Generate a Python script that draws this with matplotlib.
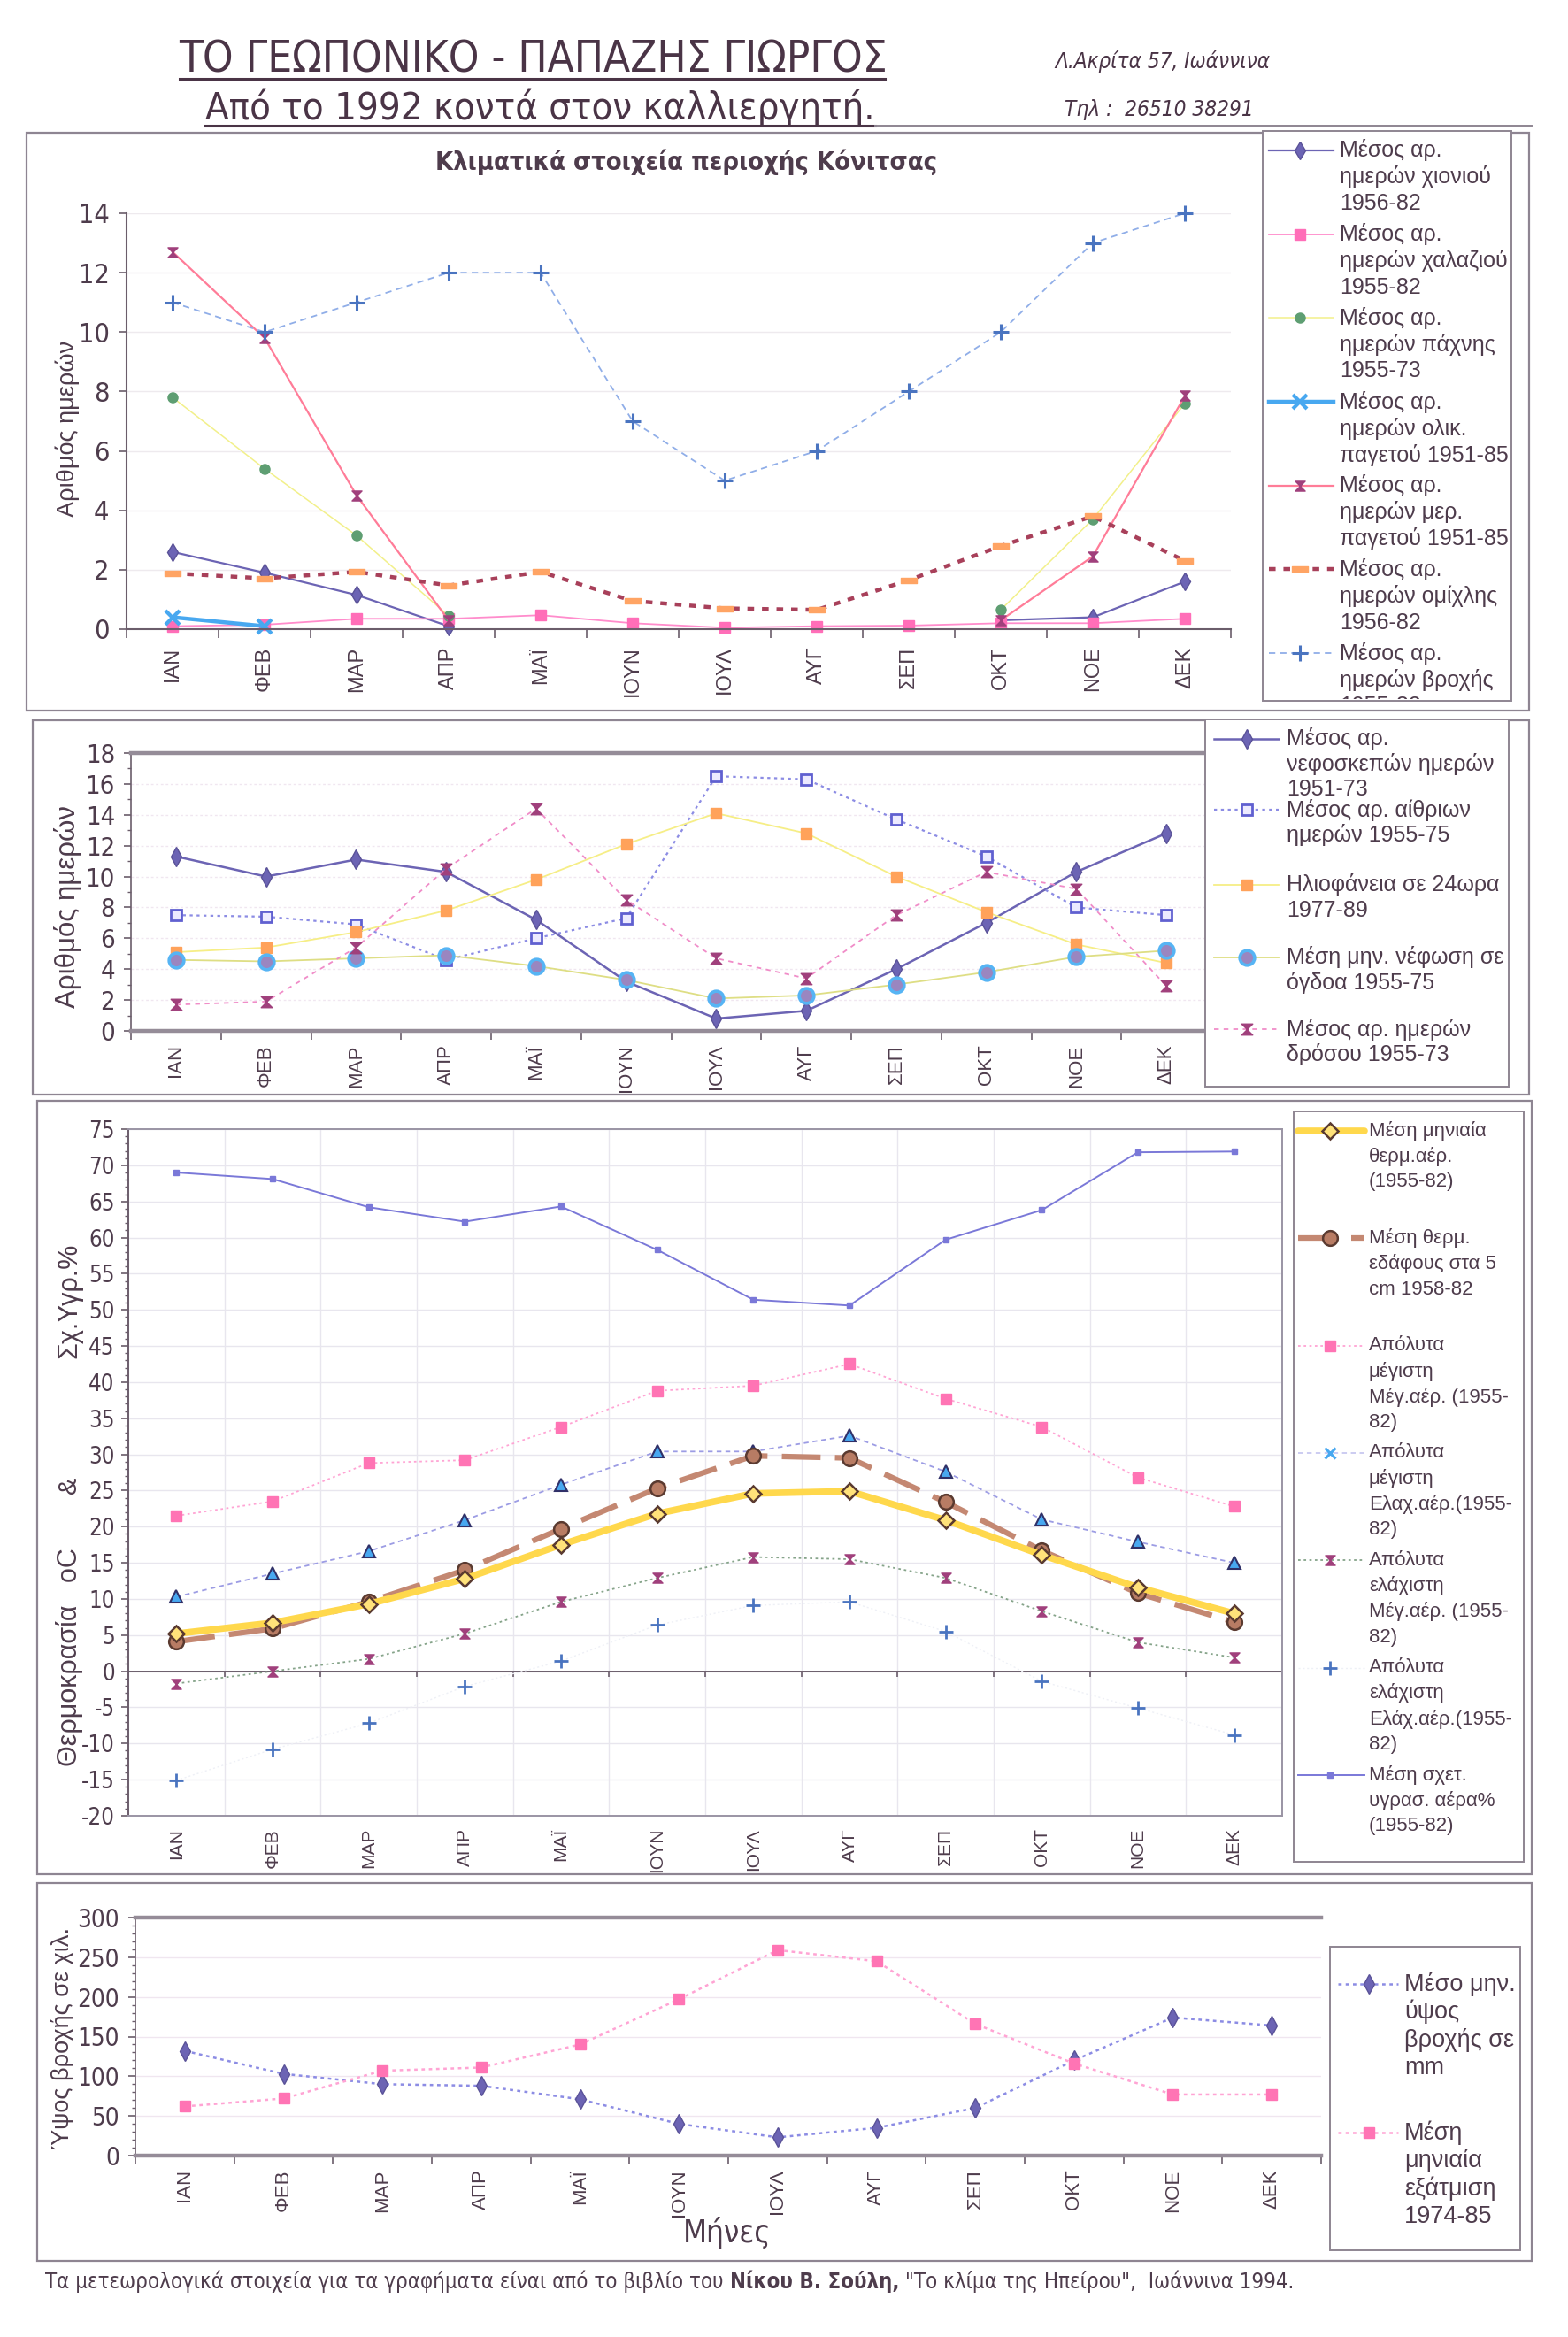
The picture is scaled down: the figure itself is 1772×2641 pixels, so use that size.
import numpy as np
import matplotlib
matplotlib.use("Agg")
import matplotlib.pyplot as plt
import matplotlib.font_manager as fm
from matplotlib.lines import Line2D
from matplotlib.patches import Rectangle
from matplotlib.path import Path
from matplotlib.transforms import Bbox, TransformedBbox

_fonts = fm.fontManager.ttflist
_names = {f.name for f in _fonts}
SANS = "Liberation Sans" if "Liberation Sans" in _names else "DejaVu Sans"


def pick_narrow():
    # a condensed face for the header, title and numbers, if one is installed
    if "Liberation Sans Narrow" in _names:
        return dict(family="Liberation Sans Narrow")
    for fam in ("DejaVu Sans", "Noto Sans", "Open Sans", "Roboto"):
        for f in _fonts:
            if f.name == fam and "condensed" in str(f.stretch):
                return dict(family=fam, stretch=f.stretch)
    for f in _fonts:
        if "Narrow" in f.name or "Condensed" in f.name:
            return dict(family=f.name)
    return dict(family=SANS)


NK = pick_narrow()


def nfp(size, weight="normal", style="normal"):
    return fm.FontProperties(size=size, weight=weight, style=style, **NK)


W, H = 1772, 2641
TXT = "#4e3c4c"
AXC = "#6b5d6b"
FRAME = "#8e8592"
nan = np.nan

MONTHS = ["ΙΑΝ", "ΦΕΒ", "ΜΑΡ", "ΑΠΡ", "ΜΑΪ", "ΙΟΥΝ", "ΙΟΥΛ", "ΑΥΓ", "ΣΕΠ", "ΟΚΤ", "ΝΟΕ", "ΔΕΚ"]

# --- panel 1: days of snow / hail / hoar frost / frost / fog / rain
SNOW = [2.6, 1.9, 1.15, 0.1, nan, nan, nan, nan, nan, 0.3, 0.4, 1.6]
HAIL = [0.1, 0.15, 0.35, 0.35, 0.47, 0.2, 0.05, 0.1, 0.12, 0.2, 0.2, 0.35]
HOAR = [7.8, 5.4, 3.15, 0.45, nan, nan, nan, nan, nan, 0.65, 3.7, 7.6]
FROST_TOTAL = [0.4, 0.1, nan, nan, nan, nan, nan, nan, nan, nan, nan, nan]
FROST_PART = [12.7, 9.8, 4.5, 0.3, nan, nan, nan, nan, nan, 0.3, 2.45, 7.85]
FOG = [1.88, 1.71, 1.93, 1.47, 1.93, 0.95, 0.7, 0.65, 1.65, 2.8, 3.8, 2.3]
RAIN_DAYS = [11, 10, 11, 12, 12, 7, 5, 6, 8, 10, 13, 14]

# --- panel 2: cloudy / clear days, sunshine, cloud cover, dew
CLOUDY = [11.3, 10.0, 11.1, 10.3, 7.2, 3.2, 0.8, 1.3, 4.0, 7.0, 10.3, 12.8]
CLEAR = [7.5, 7.4, 6.9, 4.6, 6.0, 7.3, 16.5, 16.3, 13.7, 11.3, 8.0, 7.5]
SUNSHINE = [5.1, 5.4, 6.4, 7.8, 9.8, 12.1, 14.1, 12.8, 10.0, 7.7, 5.6, 4.4]
OKTAS = [4.6, 4.5, 4.7, 4.9, 4.2, 3.3, 2.1, 2.3, 3.0, 3.8, 4.8, 5.2]
DEW = [1.7, 1.9, 5.4, 10.5, 14.4, 8.5, 4.7, 3.4, 7.5, 10.3, 9.2, 2.9]

# --- panel 3: temperatures and relative humidity
T_AIR = [5.2, 6.7, 9.3, 12.8, 17.5, 21.8, 24.6, 24.9, 20.9, 16.1, 11.6, 8.0]
T_SOIL = [4.1, 5.9, 9.6, 14.0, 19.7, 25.3, 29.8, 29.5, 23.4, 16.7, 10.8, 6.8]
ABS_MAX_MAX = [21.5, 23.5, 28.8, 29.2, 33.8, 38.8, 39.5, 42.5, 37.7, 33.8, 26.8, 22.8]
ABS_MAX_MIN = [10.3, 13.5, 16.6, 20.9, 25.8, 30.4, 30.4, 32.6, 27.6, 21.0, 17.9, 15.0]
ABS_MIN_MAX = [-1.7, 0.0, 1.7, 5.2, 9.6, 12.9, 15.8, 15.5, 12.9, 8.3, 4.0, 1.9]
ABS_MIN_MIN = [-15.1, -10.8, -7.2, -2.1, 1.4, 6.4, 9.1, 9.6, 5.5, -1.4, -5.1, -8.8]
HUMIDITY = [69.0, 68.1, 64.2, 62.2, 64.3, 58.3, 51.4, 50.6, 59.7, 63.8, 71.8, 71.9]

# --- panel 4: rainfall and evaporation (mm)
RAIN_MM = [132, 103, 90, 88, 71, 40, 23, 35, 60, 120, 174, 164]
EVAP_MM = [62, 72, 107, 111, 140, 197, 259, 245, 166, 116, 77, 77]

HOURGLASS = Path([(-1, 1), (1, 1), (-1, -1), (1, -1), (-1, 1)],
                 [Path.MOVETO, Path.LINETO, Path.LINETO, Path.LINETO, Path.CLOSEPOLY])
BAR = Path([(-1.6, -0.6), (1.6, -0.6), (1.6, 0.6), (-1.6, 0.6), (-1.6, -0.6)],
           [Path.MOVETO, Path.LINETO, Path.LINETO, Path.LINETO, Path.CLOSEPOLY])

# series styles (shared between plot and legend key)
S_SNOW = dict(color="#6c64b4", lw=1.6, marker="d", ms=10, mfc="#6c64b4", mec="#5a5298")
S_HAIL = dict(color="#ff8ccc", lw=1.3, marker="s", ms=8, mfc="#ff6eb8", mec="#ff6eb8")
S_HOAR = dict(color="#f2f08a", lw=1.1, marker="o", ms=8, mfc="#5e9e72", mec="#5e9e72")
S_FTOT = dict(color="#48a8f0", lw=3.2, marker="x", ms=11, mew=3, mec="#48a8f0")
S_FPART = dict(color="#ff7c98", lw=1.6, marker=HOURGLASS, ms=8, mfc="#a0407c", mec="#a0407c")
S_FOG = dict(color="#a8405a", lw=3.2, ls=(0, (1.7, 2.0)), marker=BAR, ms=13, mfc="#ffa464", mec="#ffa464")
S_RAIND = dict(color="#90aee8", lw=1.3, ls=(0, (4, 3)), marker="+", ms=13, mew=2.2, mec="#4a74c0")

S_CLOUDY = dict(color="#6c64b4", lw=1.8, marker="d", ms=11, mfc="#6c64b4", mec="#5a5298")
S_CLEAR = dict(color="#8c8ce4", lw=1.6, ls=(0, (1.5, 2)), marker="s", ms=8, mfc="#eceaff", mec="#6060d0", mew=2)
S_SUN = dict(color="#f6ee86", lw=1.3, marker="s", ms=8, mfc="#ffa25a", mec="#ffa25a")
S_OKTA = dict(color="#dede84", lw=1.3, marker="o", ms=12, mfc="#9a86c0", mec="#56b4f4", mew=2.6)
S_DEW = dict(color="#f08cc8", lw=1.3, ls=(0, (3, 3)), marker=HOURGLASS, ms=9, mfc="#a0407c", mec="#a0407c")

S_TAIR = dict(color="#ffd84c", lw=5.5, marker="D", ms=9, mfc="#ffe27a", mec="#5a3a30", mew=1.8, solid_capstyle="round")
S_TSOIL = dict(color="#c48872", lw=4.5, ls=(0, (7, 2.6)), marker="o", ms=12, mfc="#b87c64", mec="#5a3a30", mew=1.8)
S_AMAXMAX = dict(color="#ffa4d4", lw=1.3, ls=(0, (1.5, 2)), marker="s", ms=8, mfc="#ff74b4", mec="#ff74b4")
S_AMAXMIN = dict(color="#9c9ce4", lw=1.3, ls=(0, (3, 2.5)), marker="^", ms=10, mfc="#48a8f0", mec="#303068", mew=1.5)
S_AMINMAX = dict(color="#86a48a", lw=1.3, ls=(0, (1.5, 2)), marker=HOURGLASS, ms=8, mfc="#a0407c", mec="#a0407c")
S_AMINMIN = dict(color="#eef0f6", lw=1.0, ls=(0, (1.5, 2)), marker="+", ms=11, mew=2, mec="#4a74c0")
S_HUM = dict(color="#7a78d8", lw=1.4, marker="s", ms=4, mfc="#7a78d8", mec="#7a78d8")

S_RAINMM = dict(color="#8c8ce4", lw=1.8, ls=(0, (1.5, 1.8)), marker="d", ms=11, mfc="#6c64b4", mec="#5a5298")
S_EVAP = dict(color="#ffa4d4", lw=1.8, ls=(0, (1.5, 1.8)), marker="s", ms=9, mfc="#ff74b4", mec="#ff74b4")

fig = plt.figure(figsize=(W / 100, H / 100), dpi=100)
fig.patch.set_facecolor("white")
x = np.arange(12)


def add_ax(l, t, r, b):
    return fig.add_axes([l / W, 1 - b / H, (r - l) / W, (b - t) / H])


def month_axis(ax, size, pad, ticklen=7):
    ax.set_xlim(-0.5, 11.5)
    ax.set_xticks(x)
    ax.set_xticklabels(MONTHS, rotation=90, fontsize=size, color=TXT, family=SANS)
    ax.set_xticks(np.arange(-0.5, 12.0, 1.0), minor=True)
    ax.tick_params(axis="x", which="major", length=0, pad=pad)
    ax.tick_params(axis="x", which="minor", length=ticklen, width=1.2, color=AXC)


def y_ticks(ax, ticks, size, pad=6):
    ax.set_yticks(ticks)
    ax.set_yticklabels([f"{t:g}" for t in ticks], fontproperties=nfp(size), color=TXT)
    ax.tick_params(axis="y", which="major", length=6, width=1.2, color=AXC, pad=pad)
    ax.tick_params(axis="y", which="minor", length=3, width=1, color=AXC)


def series(ax, vals, style):
    ax.plot(x, vals, clip_on=False, **style)


def frame(x0, y0, x1, y1, fc="none", lw=1.6, z=1):
    fig.add_artist(Rectangle((x0 / W, 1 - y1 / H), (x1 - x0) / W, (y1 - y0) / H,
                             transform=fig.transFigure, fc=fc, ec=FRAME, lw=lw, zorder=z))


def key(x0, xm, x1, y, style):
    fig.add_artist(Line2D([x0 / W, xm / W, x1 / W], [1 - y / H] * 3, transform=fig.transFigure,
                          markevery=[1], zorder=4, **style))


def label(xt, y, lines, pitch, size, clip=None):
    for i, s in enumerate(lines):
        t = fig.text(xt / W, 1 - (y + i * pitch) / H, s, fontsize=size, color=TXT, family=SANS,
                     va="center", ha="left", zorder=5)
        if clip is not None:
            cx0, cy0, cx1, cy1 = clip
            t.set_clip_box(TransformedBbox(Bbox.from_extents(cx0 / W, 1 - cy1 / H, cx1 / W, 1 - cy0 / H),
                                           fig.transFigure))
            t.set_clip_on(True)


def vlabel(xc, yc, s, size):
    fig.text(xc / W, 1 - yc / H, s, rotation=90, fontsize=size, color=TXT, family=SANS,
             ha="center", va="center")


rend = fig.canvas.get_renderer()


def fit(t, target):
    w = t.get_window_extent(rend).width
    t.set_fontsize(t.get_fontsize() * target / w)


# ---------------- header
HEAD = "#4a3446"
t1 = fig.text(602 / W, 1 - 67 / H, "ΤΟ ΓΕΩΠΟΝΙΚΟ - ΠΑΠΑΖΗΣ ΓΙΩΡΓΟΣ", fontproperties=nfp(30),
              color=HEAD, ha="center", va="center")
fit(t1, 797)
t2 = fig.text(610 / W, 1 - 122 / H, "Από το 1992 κοντά στον καλλιεργητή.", fontproperties=nfp(30),
              color=HEAD, ha="center", va="center")
fit(t2, 757)
fig.add_artist(Line2D([203 / W, 1000 / W], [1 - 89 / H] * 2, transform=fig.transFigure, color=HEAD, lw=2.2))
fig.add_artist(Line2D([232 / W, 989 / W], [1 - 142 / H] * 2, transform=fig.transFigure, color=HEAD, lw=2.2))
fig.add_artist(Line2D([989 / W, 1731 / W], [1 - 142 / H] * 2, transform=fig.transFigure, color=FRAME, lw=1.4))
t3 = fig.text(1192 / W, 1 - 69 / H, "Λ.Ακρίτα 57, Ιωάννινα", fontproperties=nfp(16, style="italic"),
              color=HEAD, ha="left", va="center")
fit(t3, 243)
t4 = fig.text(1203 / W, 1 - 124 / H, "Τηλ :  26510 38291", fontproperties=nfp(16, style="italic"),
              color=HEAD, ha="left", va="center")
fit(t4, 215)

# ---------------- panel 1
frame(30, 150, 1728, 803)
ax1 = add_ax(143, 241, 1391, 711)
series(ax1, SNOW, S_SNOW)
series(ax1, HAIL, S_HAIL)
series(ax1, HOAR, S_HOAR)
series(ax1, FROST_TOTAL, S_FTOT)
series(ax1, FROST_PART, S_FPART)
series(ax1, FOG, S_FOG)
series(ax1, RAIN_DAYS, S_RAIND)
ax1.set_ylim(0, 14)
y_ticks(ax1, np.arange(0, 15, 2), 22, pad=8)
month_axis(ax1, 17, 14)
ax1.grid(axis="y", color="#eeeaee", lw=1.0)
ax1.set_axisbelow(True)
for s in ("top", "right"):
    ax1.spines[s].set_visible(False)
for s in ("left", "bottom"):
    ax1.spines[s].set_color(AXC)
    ax1.spines[s].set_linewidth(1.5)
ax1.set_facecolor("none")
t = fig.text(776 / W, 1 - 183 / H, "Κλιματικά στοιχεία περιοχής Κόνιτσας", fontproperties=nfp(22, "bold"),
             color=TXT, ha="center", va="center")
fit(t, 567)
vlabel(76, 484, "Αριθμός ημερών", 19.5)

# legend 1
frame(1427, 148, 1708, 792, fc="white", lw=1.4, z=1.5)
L1 = [(S_SNOW, ["Μέσος αρ.", "ημερών χιονιού", "1956-82"]),
      (S_HAIL, ["Μέσος αρ.", "ημερών χαλαζιού", "1955-82"]),
      (S_HOAR, ["Μέσος αρ.", "ημερών πάχνης", "1955-73"]),
      (S_FTOT, ["Μέσος αρ.", "ημερών ολικ.", "παγετού 1951-85"]),
      (S_FPART, ["Μέσος αρ.", "ημερών μερ.", "παγετού 1951-85"]),
      (S_FOG, ["Μέσος αρ.", "ημερών ομίχλης", "1956-82"]),
      (S_RAIND, ["Μέσος αρ.", "ημερών βροχής", "1955-82"])]
for i, (st, lines) in enumerate(L1):
    y = 170 + i * 94.7
    key(1434, 1469, 1507, y, st)
    label(1514, y, lines, 30, 18, clip=(1427, 148, 1708, 790))

# ---------------- panel 2
frame(37, 814, 1728, 1237)
ax2 = add_ax(148, 851, 1369, 1165)
series(ax2, CLOUDY, S_CLOUDY)
series(ax2, CLEAR, S_CLEAR)
series(ax2, SUNSHINE, S_SUN)
series(ax2, OKTAS, S_OKTA)
series(ax2, DEW, S_DEW)
ax2.set_ylim(0, 18)
y_ticks(ax2, np.arange(0, 19, 2), 21, pad=7)
ax2.set_yticks(np.arange(0, 19, 1), minor=True)
month_axis(ax2, 16, 11)
ax2.grid(axis="y", color="#f0e6f0", lw=1.0, ls=(0, (2, 2)))
ax2.set_axisbelow(True)
ax2.spines["right"].set_visible(False)
ax2.spines["left"].set_color(AXC)
ax2.spines["left"].set_linewidth(1.2)
for s in ("top", "bottom"):
    ax2.spines[s].set_color("#958c98")
    ax2.spines[s].set_linewidth(3.2)
ax2.set_facecolor("none")
vlabel(76, 1025, "Αριθμός ημερών", 22.5)

frame(1362, 813, 1705, 1228, fc="white", lw=1.4, z=1.5)
L2 = [(S_CLOUDY, 835, ["Μέσος αρ.", "νεφοσκεπών ημερών", "1951-73"]),
      (S_CLEAR, 915, ["Μέσος αρ. αίθριων", "ημερών 1955-75"]),
      (S_SUN, 1000, ["Ηλιοφάνεια σε 24ωρα", "1977-89"]),
      (S_OKTA, 1082, ["Μέση μην. νέφωση σε", "όγδοα 1955-75"]),
      (S_DEW, 1163, ["Μέσος αρ. ημερών", "δρόσου 1955-73"])]
for st, y, lines in L2:
    key(1372, 1409, 1445, y, st)
    label(1454, y, lines, 28.5, 18)

# ---------------- panel 3
frame(42, 1244, 1731, 2118)
ax3 = add_ax(145, 1276, 1449, 2052)
series(ax3, HUMIDITY, S_HUM)
series(ax3, ABS_MIN_MIN, S_AMINMIN)
series(ax3, ABS_MIN_MAX, S_AMINMAX)
series(ax3, ABS_MAX_MIN, S_AMAXMIN)
series(ax3, ABS_MAX_MAX, S_AMAXMAX)
series(ax3, T_SOIL, S_TSOIL)
series(ax3, T_AIR, S_TAIR)
ax3.set_ylim(-20, 75)
y_ticks(ax3, np.arange(-20, 76, 5), 18.5, pad=5)
ax3.set_yticks(np.arange(-20, 76, 1), minor=True)
month_axis(ax3, 15, 10, ticklen=0)
ax3.grid(axis="y", which="major", color="#e8e6ee", lw=1.0)
ax3.grid(axis="x", which="minor", color="#e8e6ee", lw=1.0)
ax3.axhline(0, color=AXC, lw=1.4, zorder=1)
ax3.vlines(np.arange(-0.5, 12.0, 1.0), -0.8, 0, color=AXC, lw=1.2, zorder=1)
ax3.set_axisbelow(True)
for s in ax3.spines.values():
    s.set_color("#9a94a4")
    s.set_linewidth(1.4)
ax3.spines["left"].set_color(AXC)
ax3.set_facecolor("none")
vlabel(78, 1470, "Σχ.Υγρ.%", 22)
vlabel(78, 1678, "&", 21)
vlabel(78, 1873, "Θερμοκρασία   oC", 22)

frame(1462, 1256, 1722, 2104, fc="white", lw=1.4, z=1.5)
L3 = [(S_TAIR, ["Μέση μηνιαία", "θερμ.αέρ.", "(1955-82)"]),
      (S_TSOIL, ["Μέση θερμ.", "εδάφους στα 5", "cm 1958-82"]),
      (S_AMAXMAX, ["Απόλυτα", "μέγιστη", "Μέγ.αέρ. (1955-", "82)"]),
      (dict(S_AMAXMIN, marker="x", ms=8, mew=2.2, mec="#48a8f0", color="#c8c8f0"),
       ["Απόλυτα", "μέγιστη", "Ελαχ.αέρ.(1955-", "82)"]),
      (S_AMINMAX, ["Απόλυτα", "ελάχιστη", "Μέγ.αέρ. (1955-", "82)"]),
      (S_AMINMIN, ["Απόλυτα", "ελάχιστη", "Ελάχ.αέρ.(1955-", "82)"]),
      (S_HUM, ["Μέση σχετ.", "υγρασ. αέρα%", "(1955-82)"])]
for i, (st, lines) in enumerate(L3):
    y = 1278 + i * 121.3
    key(1467, 1503, 1542, y, st)
    label(1547, y, lines, 29, 16)

# ---------------- panel 4
frame(42, 2128, 1731, 2555)
ax4 = add_ax(153, 2167, 1493, 2436)
series(ax4, RAIN_MM, S_RAINMM)
series(ax4, EVAP_MM, S_EVAP)
ax4.set_ylim(0, 300)
y_ticks(ax4, np.arange(0, 301, 50), 20, pad=7)
ax4.set_yticks(np.arange(0, 301, 10), minor=True)
month_axis(ax4, 16, 11)
ax4.grid(axis="y", color="#f0e6f0", lw=1.0)
ax4.set_axisbelow(True)
ax4.spines["right"].set_visible(False)
ax4.spines["left"].set_color(AXC)
ax4.spines["left"].set_linewidth(1.2)
for s in ("top", "bottom"):
    ax4.spines[s].set_color("#958c98")
    ax4.spines[s].set_linewidth(3.2)
ax4.set_facecolor("none")
vlabel(70, 2303, "Ύψος βροχής σε χιλ.", 19.5)
fig.text(822 / W, 1 - 2523 / H, "Μήνες", fontproperties=nfp(25), color=TXT, ha="center", va="center")

frame(1503, 2200, 1718, 2543, fc="white", lw=1.4, z=1.5)
key(1512, 1547, 1580, 2242, S_RAINMM)
label(1587, 2242, ["Μέσο μην.", "ύψος", "βροχής σε", "mm"], 31.7, 19.5)
key(1512, 1547, 1580, 2410, S_EVAP)
label(1587, 2410, ["Μέση", "μηνιαία", "εξάτμιση", "1974-85"], 31.7, 19.5)

# ---------------- footer
f1 = fig.text(0, 0, "Τα μετεωρολογικά στοιχεία για τα γραφήματα είναι από το βιβλίο του",
              fontproperties=nfp(18), color=TXT, va="center")
f2 = fig.text(0, 0, "Νίκου Β. Σούλη,", fontproperties=nfp(18, "bold"), color=TXT, va="center")
f3 = fig.text(0, 0, "\"Το κλίμα της Ηπείρου\",  Ιωάννινα 1994.", fontproperties=nfp(18),
              color=TXT, va="center")
parts = [f1, f2, f3]
gap = 0.3
ws = [p.get_window_extent(rend).width for p in parts]
total = sum(ws) + 2 * gap * 18 * 100 / 72
scale = 1412 / total
xpos = 51
for p in parts:
    p.set_fontsize(18 * scale)
for p in parts:
    p.set_position((xpos / W, 1 - 2578 / H))
    xpos += p.get_window_extent(rend).width + gap * 18 * scale * 100 / 72

fig.savefig("out.png", dpi=100, facecolor="white")
